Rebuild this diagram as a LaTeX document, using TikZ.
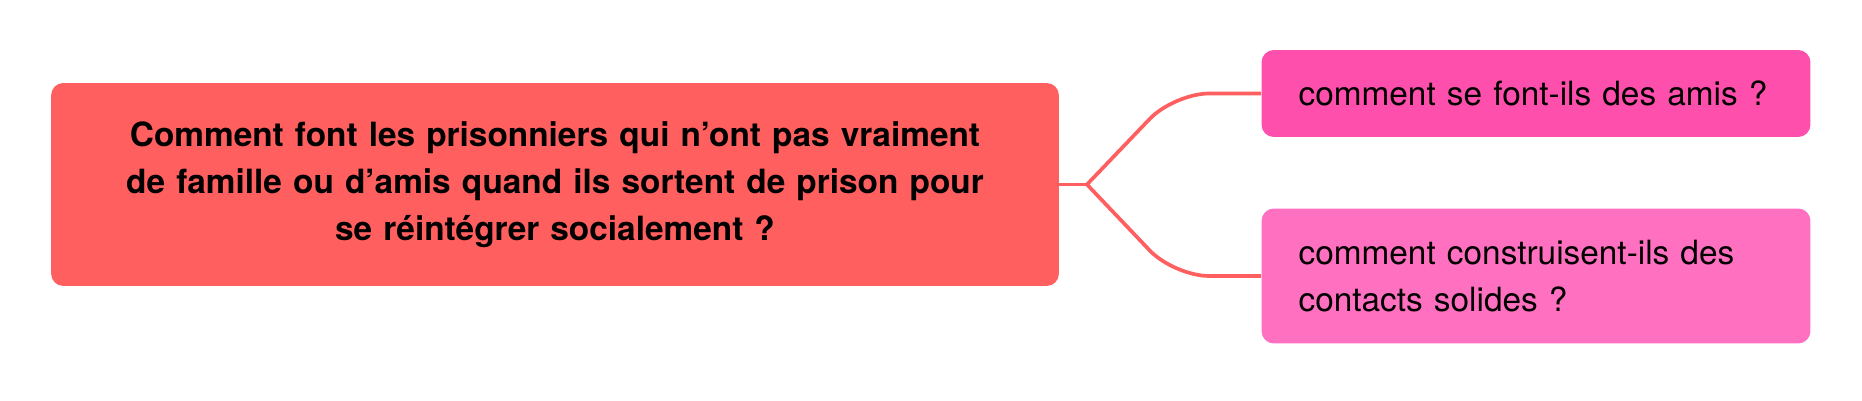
\documentclass[tikz,border=0pt]{standalone}
\usepackage{fontspec}
\setmainfont{TeX Gyre Heros}
\definecolor{rootred}{HTML}{FF5F5F}
\definecolor{hotpink}{HTML}{FF4FAD}
\definecolor{softpink}{HTML}{FF70C0}
\tikzset{
  topic/.style={rounded corners=7pt, inner sep=0pt, font=\fontsize{19}{26.7}\selectfont},
  branch/.style={draw=rootred, line width=2.1pt},
}
\begin{document}
\begin{tikzpicture}[x=0.02cm,y=-0.02cm]
            \useasboundingbox (0,0) rectangle (1862,401);

            \node[topic, fill=rootred, minimum width=20.16cm, minimum height=4.06cm,
                  text width=19cm, align=center, font=\fontsize{19}{26.7}\selectfont\bfseries]
                  (root) at (555,184.5)
                  {Comment font les prisonniers qui n’ont pas vraiment\\
                   de famille ou d’amis quand ils sortent de prison pour\\
                   se réintégrer socialement ?};

            \node[topic, fill=hotpink, minimum width=10.98cm, minimum height=1.74cm,
                  text width=9.5cm, align=left]
                  (friends) at (1536,93.5) {comment se font-ils des amis ?};

            \node[topic, fill=softpink, minimum width=10.98cm, minimum height=2.7cm,
                  text width=9.5cm, align=left]
                  (contacts) at (1536,276)
                  {comment construisent-ils des\\ contacts solides ?};

            \coordinate (fork) at (1087,184.5);
            \coordinate (bendup) at (1174,93.5);
            \coordinate (benddown) at (1174,276);

            \draw[branch] (root.east) -- (fork);
            \draw[branch, rounded corners=20pt] (fork) -- (bendup) -- (friends.west);
            \draw[branch, rounded corners=20pt] (fork) -- (benddown) -- (contacts.west);
        \end{tikzpicture}
\end{document}
